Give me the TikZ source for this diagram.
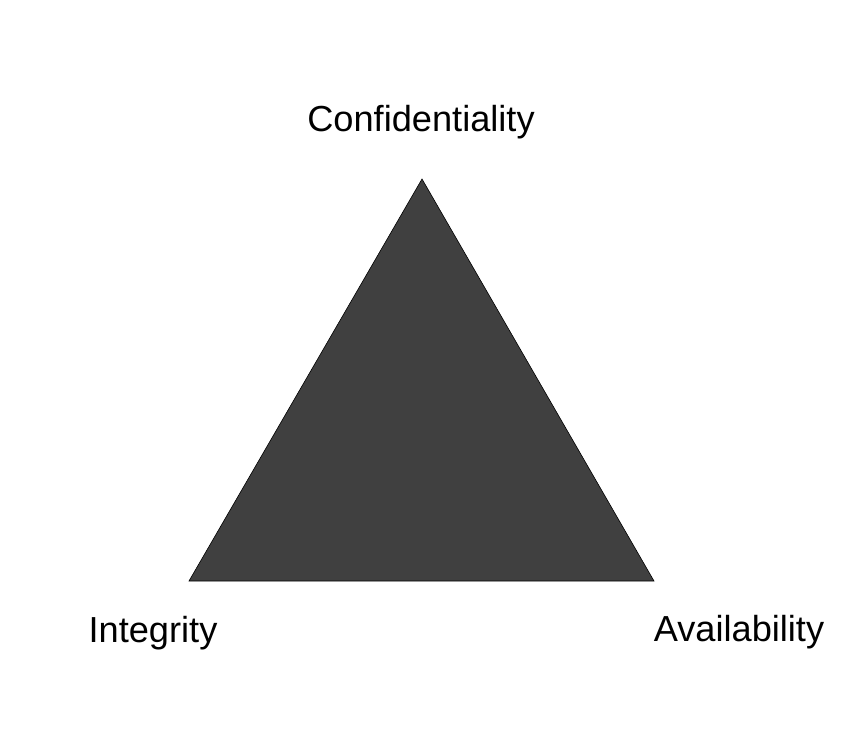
\documentclass[tikz,border=0pt]{standalone}
\usepackage{fontspec}
\setmainfont{Liberation Sans}
\definecolor{trifill}{HTML}{404040}
\begin{document}
\begin{tikzpicture}[x=1pt,y=1pt,
  lbl/.style={anchor=base,inner sep=0pt,font=\fontsize{36.2}{40}\selectfont}]
\useasboundingbox (0,0) rectangle (858,748);
\coordinate (top) at (422,569);
\coordinate (bl) at (189,167);
\coordinate (br) at (654,167);
\filldraw[fill=trifill,draw=black,line width=0.6pt,line join=miter] (top) -- (bl) -- (br) -- cycle;
\node[lbl] (conf) at (421,616) {Confidentiality};
\node[lbl] (integ) at (153,106) {Integrity};
\node[lbl] (avail) at (739,107) {Availability};
\end{tikzpicture}
\end{document}
